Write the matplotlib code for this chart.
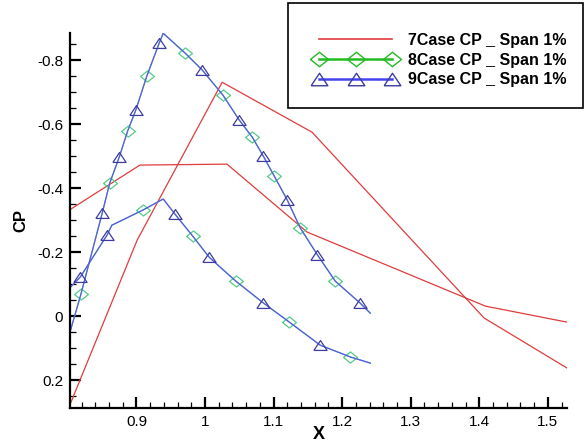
import matplotlib
matplotlib.use("Agg")
import matplotlib.pyplot as plt
from matplotlib.lines import Line2D
from matplotlib.patches import Rectangle
from matplotlib.ticker import MultipleLocator

# CP distributions at 1% span

# 7Case : two branches (pressure / suction side)
x_7a = [0.790, 0.901, 1.025, 1.156, 1.407, 1.528]
cp_7a = [0.345, -0.2375, -0.731, -0.575, 0.006, 0.1625]
x_7b = [0.790, 0.905, 1.032, 1.149, 1.409, 1.528]
cp_7b = [-0.315, -0.472, -0.475, -0.2625, -0.031, 0.019]

# 8Case and 9Case fall on the same curve
x_up = [0.790, 0.819, 0.850, 0.861, 0.875, 0.887, 0.899, 0.915, 0.933, 0.939,
        0.971, 0.996, 1.026, 1.050, 1.069, 1.085, 1.101, 1.120, 1.139, 1.164,
        1.190, 1.226, 1.241]
cp_up = [0.147, -0.069, -0.322, -0.416, -0.498, -0.578, -0.644, -0.750, -0.853, -0.884,
         -0.822, -0.769, -0.691, -0.6125, -0.559, -0.500, -0.4375, -0.3625, -0.275, -0.191,
         -0.109, -0.041, -0.009]
x_lo = [0.790, 0.818, 0.857, 0.864, 0.909, 0.939, 0.956, 0.982, 1.006, 1.022,
        1.045, 1.085, 1.123, 1.168, 1.212, 1.241]
cp_lo = [-0.060, -0.122, -0.253, -0.284, -0.331, -0.366, -0.319, -0.250, -0.184, -0.153,
         -0.109, -0.041, 0.019, 0.091, 0.128, 0.147]

# which points carry a symbol
dia_up = [1, 3, 5, 7, 10, 12, 14, 16, 18, 20]
tri_up = [2, 4, 6, 8, 11, 13, 15, 17, 19, 21]
dia_lo = [4, 7, 10, 12, 14]
tri_lo = [1, 2, 6, 8, 11, 13]

labels = ['7Case CP _ Span 1%', '8Case CP _ Span 1%', '9Case CP _ Span 1%']

red = '#e03c3c'
green = '#55cc88'
blue = '#5a5ae6'
tri_edge = '#3c3ca0'

tri_mk = [(-1, -0.75), (1, -0.75), (0, 0.75), (-1, -0.75)]
dia_mk = [(-1, 0), (0, 0.8), (1, 0), (0, -0.8), (-1, 0)]

plt.rcParams['font.family'] = ['Liberation Sans', 'DejaVu Sans']

fig = plt.figure(figsize=(5.84, 4.43), dpi=100)
ax = fig.add_axes([70/584, 35/443, 497/584, 375/443])

ax.plot(x_7a, cp_7a, color=red, lw=0.9)
ax.plot(x_7b, cp_7b, color=red, lw=0.9)

for xs, ys, di in [(x_up, cp_up, dia_up), (x_lo, cp_lo, dia_lo)]:
    ax.plot(xs, ys, color=green, lw=0.9, marker=dia_mk, markevery=di,
            ms=10, mfc='none', mec=green, mew=0.9)
for xs, ys, ti in [(x_up, cp_up, tri_up), (x_lo, cp_lo, tri_lo)]:
    ax.plot(xs, ys, color=blue, lw=0.9, marker=tri_mk, markevery=ti,
            ms=9.5, mfc='none', mec=tri_edge, mew=0.9)

ax.set_xlim(0.803, 1.528)
ax.set_ylim(0.2875, -0.885)

ax.xaxis.set_major_locator(MultipleLocator(0.1))
ax.xaxis.set_minor_locator(MultipleLocator(0.02))
ax.yaxis.set_major_locator(MultipleLocator(0.2))
ax.yaxis.set_minor_locator(MultipleLocator(0.05))
ax.set_yticks([-0.8, -0.6, -0.4, -0.2, 0, 0.2])
ax.set_yticklabels(['-0.8', '-0.6', '-0.4', '-0.2', '0', '0.2'])
ax.set_xticks([0.9, 1.0, 1.1, 1.2, 1.3, 1.4, 1.5])
ax.set_xticklabels(['0.9', '1', '1.1', '1.2', '1.3', '1.4', '1.5'])

ax.spines['top'].set_visible(False)
ax.spines['right'].set_visible(False)
ax.spines['left'].set_linewidth(1.6)
ax.spines['bottom'].set_linewidth(1.6)
ax.tick_params(which='major', direction='in', length=8, width=1.6,
               labelsize=11, pad=5)
ax.tick_params(which='minor', direction='in', length=4.5, width=0.9)

ax.set_xlabel('X', fontsize=13, fontweight='bold', labelpad=-2)
ax.set_ylabel('CP', fontsize=12, fontweight='bold', labelpad=6)

# legend box in the top right corner
fig.patches.append(Rectangle((288/584, 1 - 108/443), 295/584, 105/443,
                             transform=fig.transFigure, fill=False,
                             edgecolor='black', lw=1.2, zorder=5))
handles = [
    Line2D([], [], color=red, lw=1.2),
    Line2D([], [], color='#22bb22', lw=1.8, marker=dia_mk, ms=13,
           mfc='none', mec='#22bb22', mew=1.0),
    Line2D([], [], color='#4444ee', lw=1.8, marker=tri_mk, ms=12,
           mfc='none', mec=tri_edge, mew=1.0),
]
fig.legend(handles, labels, loc='center left', bbox_to_anchor=(314/584, 1 - 60/443),
           frameon=False, numpoints=3, handlelength=5.2, handletextpad=0.7,
           labelspacing=0.3, borderpad=0, borderaxespad=0,
           prop={'weight': 'bold', 'size': 11.5})

fig.savefig('out.png', dpi=100)
